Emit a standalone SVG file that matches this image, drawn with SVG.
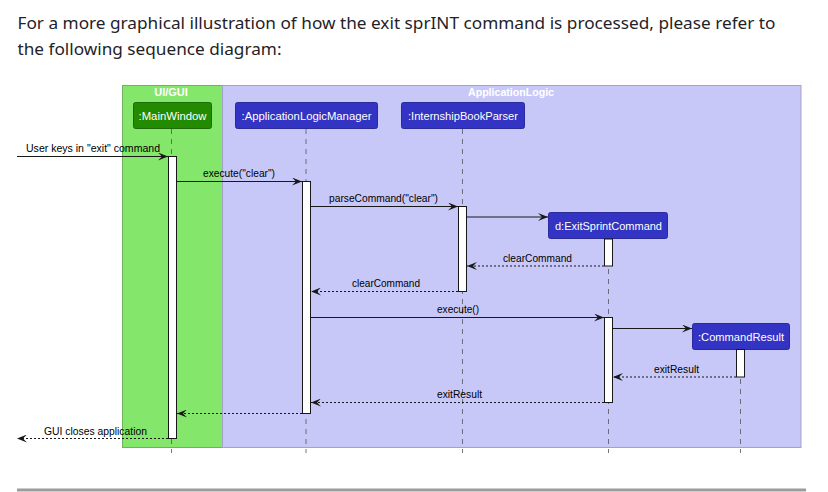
<svg xmlns="http://www.w3.org/2000/svg" width="828" height="492" viewBox="0 0 828 492">
<defs>
<marker id="ah" viewBox="0 0 10 8" refX="10" refY="4" markerWidth="10" markerHeight="8" markerUnits="userSpaceOnUse" orient="auto">
<path d="M0,0 L10,4 L0,8 L4,4 Z" fill="#181818"/>
</marker>
</defs>
<style>
.body{font-family:"Noto Sans","Open Sans",sans-serif;font-size:16px;fill:#1f2328}
.ttl{font-family:"Liberation Sans",Arial,sans-serif;font-size:11px;font-weight:bold;fill:#ffffff}
.pl{font-family:"Liberation Sans",Arial,sans-serif;font-size:11px;fill:#ffffff}
.msg{font-family:"Liberation Sans",Arial,sans-serif;font-size:10px;fill:#000000}
.life{stroke:#555;stroke-width:0.8;stroke-dasharray:5,5;fill:none}
.act{fill:#ffffff;stroke:#181818;stroke-width:1}
.call{stroke:#181818;stroke-width:1;fill:none;marker-end:url(#ah)}
.ret{stroke:#181818;stroke-width:1;stroke-dasharray:2,2;fill:none;marker-end:url(#ah)}
.pbox{stroke-width:1}
</style>
<text class="body" x="17.5" y="29" textLength="758" lengthAdjust="spacingAndGlyphs">For a more graphical illustration of how the exit sprINT command is processed, please refer to</text>
<text class="body" x="17.5" y="55" textLength="264" lengthAdjust="spacingAndGlyphs">the following sequence diagram:</text>

<g id="box-uigui">
<rect x="122.5" y="85.5" width="100" height="362" fill="#85E66C" stroke="#6FB25E"/>
<text class="ttl" x="171" y="96" text-anchor="middle">UI/GUI</text>
</g>
<g id="box-applogic">
<rect x="222.5" y="85.5" width="578.5" height="362" fill="#C8C8F8" stroke="#A3A3C8"/>
<text class="ttl" x="511" y="96" text-anchor="middle" textLength="86" lengthAdjust="spacingAndGlyphs">ApplicationLogic</text>
</g>

<g id="lifelines">
<line class="life" x1="171.5" y1="129" x2="171.5" y2="453"/>
<line class="life" x1="306" y1="129" x2="306" y2="453"/>
<line class="life" x1="462.5" y1="129" x2="462.5" y2="453"/>
<line class="life" x1="608.5" y1="239" x2="608.5" y2="453"/>
<line class="life" x1="740.5" y1="349" x2="740.5" y2="453"/>
</g>

<g id="MainWindow">
<rect x="133.5" y="102.5" width="78" height="26" rx="2" fill="#228B00" stroke="#1D6B08"/>
<text class="pl" x="172.5" y="119.5" text-anchor="middle" textLength="68" lengthAdjust="spacingAndGlyphs">:MainWindow</text>
<rect class="act" x="168.5" y="156.5" width="8" height="282"/>
</g>
<g id="ApplicationLogicManager">
<rect x="235.5" y="102.5" width="142" height="26" rx="2" fill="#3333C4" stroke="#2A2A9A"/>
<text class="pl" x="306.5" y="119.5" text-anchor="middle" textLength="130" lengthAdjust="spacingAndGlyphs">:ApplicationLogicManager</text>
<rect class="act" x="302.5" y="181.5" width="8" height="232"/>
</g>
<g id="InternshipBookParser">
<rect x="401.5" y="102.5" width="123" height="26" rx="2" fill="#3333C4" stroke="#2A2A9A"/>
<text class="pl" x="463" y="119.5" text-anchor="middle" textLength="110" lengthAdjust="spacingAndGlyphs">:InternshipBookParser</text>
<rect class="act" x="458.5" y="206.5" width="8" height="85"/>
</g>
<g id="ExitSprintCommand">
<rect x="548.5" y="212.5" width="119" height="26" rx="2" fill="#3333C4" stroke="#2A2A9A"/>
<text class="pl" x="608.5" y="229.5" text-anchor="middle" textLength="107" lengthAdjust="spacingAndGlyphs">d:ExitSprintCommand</text>
<rect class="act" x="604.5" y="239" width="8" height="27"/>
<rect class="act" x="604.5" y="317.5" width="8" height="85"/>
</g>
<g id="CommandResult">
<rect x="692.5" y="323.5" width="97" height="26" rx="2" fill="#3333C4" stroke="#2A2A9A"/>
<text class="pl" x="741" y="340.5" text-anchor="middle" textLength="86" lengthAdjust="spacingAndGlyphs">:CommandResult</text>
<rect class="act" x="736.5" y="349.5" width="8" height="27.5"/>
</g>

<g id="connectors">
<line class="call" x1="17" y1="156.5" x2="168" y2="156.5"/>
<text class="msg" x="26" y="152" textLength="134" lengthAdjust="spacingAndGlyphs">User keys in "exit" command</text>
<line class="call" x1="177" y1="181.5" x2="302" y2="181.5"/>
<text class="msg" x="203" y="177" textLength="72" lengthAdjust="spacingAndGlyphs">execute("clear")</text>
<line class="call" x1="311" y1="206.5" x2="458" y2="206.5"/>
<text class="msg" x="329" y="202" textLength="109" lengthAdjust="spacingAndGlyphs">parseCommand("clear")</text>
<line class="call" x1="467" y1="217" x2="548" y2="217"/>
<line class="ret" x1="604" y1="266" x2="467" y2="266"/>
<text class="msg" x="503" y="262" textLength="69" lengthAdjust="spacingAndGlyphs">clearCommand</text>
<line class="ret" x1="458" y1="291.5" x2="311" y2="291.5"/>
<text class="msg" x="352" y="287" textLength="68" lengthAdjust="spacingAndGlyphs">clearCommand</text>
<line class="call" x1="311" y1="317.5" x2="604" y2="317.5"/>
<text class="msg" x="437" y="313" textLength="42" lengthAdjust="spacingAndGlyphs">execute()</text>
<line class="call" x1="613" y1="328.5" x2="692" y2="328.5"/>
<line class="ret" x1="736" y1="377" x2="613" y2="377"/>
<text class="msg" x="654" y="373" textLength="45" lengthAdjust="spacingAndGlyphs">exitResult</text>
<line class="ret" x1="604" y1="402.5" x2="311" y2="402.5"/>
<text class="msg" x="437" y="398" textLength="45" lengthAdjust="spacingAndGlyphs">exitResult</text>
<line class="ret" x1="302" y1="413.5" x2="177" y2="413.5"/>
<line class="ret" x1="168" y1="438.5" x2="17" y2="438.5"/>
<text class="msg" x="44" y="435" textLength="103" lengthAdjust="spacingAndGlyphs">GUI closes application</text>
</g>

<rect x="17" y="488.5" width="789" height="3" fill="#9C9C9C"/>
</svg>
